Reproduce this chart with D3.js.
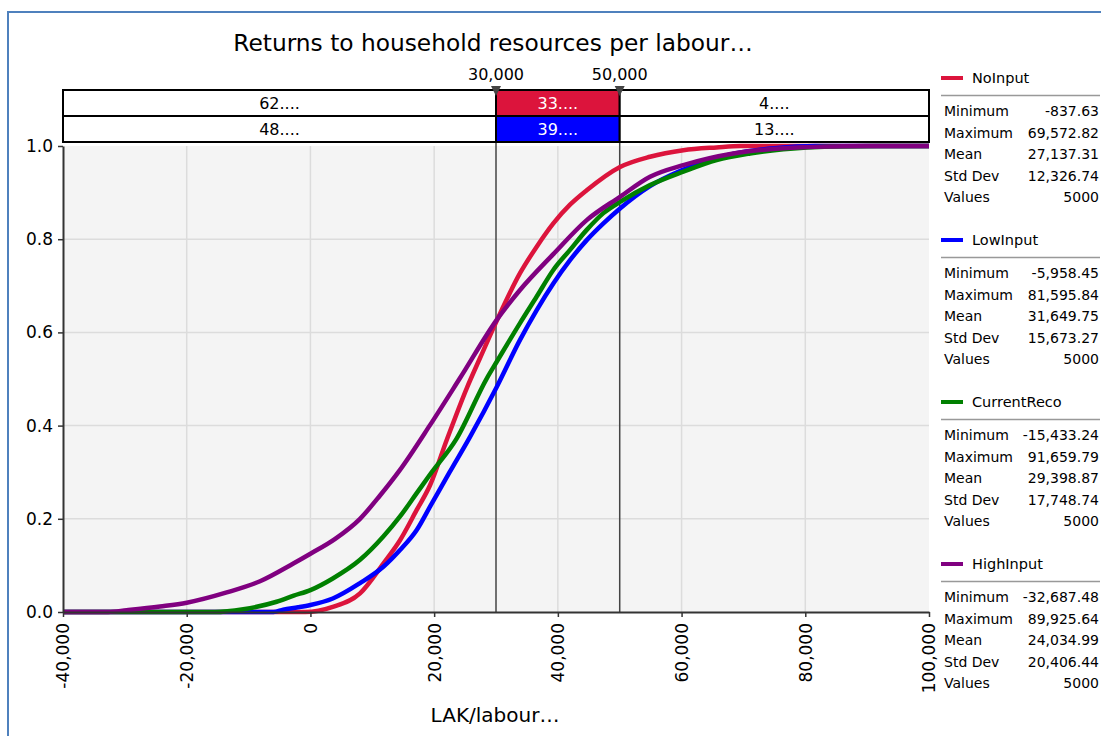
<!DOCTYPE html>
<html>
<head>
<meta charset="utf-8">
<script src="https://cdn.jsdelivr.net/npm/d3@7"></script>
<style>
  html, body { margin: 0; padding: 0; background: #fff; }
  svg { display: block; font-family: "DejaVu Sans", Verdana, sans-serif; }
</style>
</head>
<body>
<svg id="chart" width="1101" height="736"></svg>
<script>
// Cumulative ascending curves: [value (LAK/labour), cumulative probability]
const noInput = [
  [-40000, 0], [-837, 0], [3617, 0.011], [8017, 0.04], [11783, 0.104], [14483, 0.154],
  [17183, 0.219], [19333, 0.272], [22033, 0.369], [25267, 0.48], [27417, 0.545],
  [30117, 0.625], [33883, 0.727], [36583, 0.784], [39267, 0.834], [41967, 0.874],
  [44667, 0.905], [50050, 0.955], [54900, 0.977], [60283, 0.991], [65667, 0.997],
  [69573, 1], [100000, 1]
];
const lowInput = [
  [-40000, 0], [-5958, 0], [-4400, 0.005], [-2000, 0.01], [0, 0.015], [3617, 0.029],
  [8017, 0.062], [11783, 0.097], [14483, 0.133], [17183, 0.176], [19333, 0.226],
  [22500, 0.30], [25800, 0.376], [30117, 0.483], [33883, 0.584], [36583, 0.648],
  [39267, 0.705], [41967, 0.755], [44667, 0.798], [47367, 0.834], [50050, 0.866],
  [54900, 0.914], [60000, 0.948], [65000, 0.972], [70000, 0.987], [75000, 0.995],
  [81596, 1], [100000, 1]
];
const currentReco = [
  [-40000, 0], [-15433, 0], [-10850, 0.006], [-5467, 0.022], [-2700, 0.035], [0, 0.047],
  [3617, 0.072], [8017, 0.112], [11783, 0.162], [14483, 0.205], [17183, 0.255],
  [19333, 0.295], [23633, 0.372], [28500, 0.501], [30117, 0.537], [33883, 0.62],
  [36583, 0.677], [39267, 0.734], [41967, 0.777], [44667, 0.82], [47367, 0.856],
  [50050, 0.88], [54900, 0.916], [60283, 0.945], [65667, 0.97], [71067, 0.984],
  [76450, 0.993], [84000, 0.999], [91660, 1], [100000, 1]
];
const highInput = [
  [-40000, 0], [-32687, 0], [-29700, 0.004], [-24317, 0.012], [-20000, 0.02],
  [-13533, 0.042], [-8150, 0.066], [-2767, 0.104], [0, 0.125], [4000, 0.157],
  [8017, 0.2], [11250, 0.25], [14480, 0.305], [19330, 0.401], [24183, 0.502],
  [30117, 0.627], [33883, 0.691], [39267, 0.768], [44667, 0.841], [50050, 0.891],
  [54900, 0.934], [60283, 0.959], [68367, 0.984], [76450, 0.995], [84500, 0.999],
  [89926, 1], [100000, 1]
];

const seriesNames  = ["NoInput", "LowInput", "CurrentReco", "HighInput"];
const seriesColors = ["#dc143c", "#0000ff", "#008000", "#800080"];
const seriesData   = [noInput, lowInput, currentReco, highInput];

const statLabels = ["Minimum", "Maximum", "Mean", "Std Dev", "Values"];
const statsNoInput     = ["-837.63", "69,572.82", "27,137.31", "12,326.74", "5000"];
const statsLowInput    = ["-5,958.45", "81,595.84", "31,649.75", "15,673.27", "5000"];
const statsCurrentReco = ["-15,433.24", "91,659.79", "29,398.87", "17,748.74", "5000"];
const statsHighInput   = ["-32,687.48", "89,925.64", "24,034.99", "20,406.44", "5000"];
const seriesStats = [statsNoInput, statsLowInput, statsCurrentReco, statsHighInput];

// Delimiter sliders and the probability strip above the plot
const delimiters = [30000, 50000];
const delimiterLabels = ["30,000", "50,000"];
const stripRowNoInput  = ["62....", "33....", "4...."];
const stripRowLowInput = ["48....", "39....", "13...."];

const xTicks = [-40000, -20000, 0, 20000, 40000, 60000, 80000, 100000];
const yTicks = [0, 0.2, 0.4, 0.6, 0.8, 1.0];

const titleText = "Returns to household resources per labour\u2026";
const xAxisTitle = "LAK/labour\u2026";

// plain hyphen for negative numbers
const locale = d3.formatLocale({ decimal: ".", thousands: ",", grouping: [3], currency: ["", ""], minus: "-" });

const svg = d3.select("#chart");

// outer frame
svg.append("path")
  .attr("d", "M8,736 L8,12 L1101,12")
  .attr("fill", "none").attr("stroke", "#4f81bd").attr("stroke-width", 2);

const x = d3.scaleLinear().domain([-40000, 100000]).range([63, 929]);
const y = d3.scaleLinear().domain([0, 1]).range([612, 146]);

// plot background
svg.append("rect")
  .attr("x", x(-40000)).attr("y", y(1))
  .attr("width", x(100000) - x(-40000)).attr("height", y(0) - y(1))
  .attr("fill", "#f4f4f4");

// grid
const grid = svg.append("g");
grid.selectAll("line.gx").data(xTicks.slice(1, -1)).enter().append("line")
  .attr("x1", d => x(d)).attr("x2", d => x(d))
  .attr("y1", y(0)).attr("y2", y(1))
  .attr("stroke", "#dcdcdc").attr("stroke-width", 1.5);
grid.selectAll("line.gy").data(yTicks.slice(1, -1)).enter().append("line")
  .attr("x1", x(-40000)).attr("x2", x(100000))
  .attr("y1", d => y(d)).attr("y2", d => y(d))
  .attr("stroke", "#dcdcdc").attr("stroke-width", 1.5);

// delimiter lines through the plot
svg.selectAll("line.delim").data(delimiters).enter().append("line")
  .attr("x1", d => x(d)).attr("x2", d => x(d))
  .attr("y1", 90).attr("y2", y(0))
  .attr("stroke", "#444").attr("stroke-width", 1.5);

// curves
const line = d3.line()
  .x(d => x(d[0])).y(d => y(d[1]))
  .curve(d3.curveMonotoneX);
seriesData.forEach((data, i) => {
  svg.append("path")
    .datum(data)
    .attr("d", line)
    .attr("fill", "none")
    .attr("stroke", seriesColors[i])
    .attr("stroke-width", 4.5)
    .attr("stroke-linejoin", "round");
});

// axes
const xAxis = d3.axisBottom(x).tickValues(xTicks).tickSize(5).tickFormat(locale.format(",")).tickSizeOuter(0);
const gx = svg.append("g").attr("transform", `translate(0,${y(0)})`).call(xAxis);
gx.select(".domain").attr("stroke", "#333").attr("stroke-width", 2);
gx.selectAll(".tick line").attr("stroke", "#333").attr("stroke-width", 1.5);
gx.selectAll(".tick text")
  .attr("font-size", 17).attr("fill", "#000")
  .attr("font-family", "DejaVu Sans, sans-serif")
  .attr("text-anchor", "end")
  .attr("transform", "rotate(-90)")
  .attr("x", -11).attr("y", 0).attr("dy", "0.35em");

const yAxis = d3.axisLeft(y).tickValues(yTicks).tickSize(5).tickFormat(locale.format(".1f")).tickSizeOuter(0);
const gy = svg.append("g").attr("transform", `translate(${x(-40000)},0)`).call(yAxis);
gy.select(".domain").attr("stroke", "#333").attr("stroke-width", 2);
gy.selectAll(".tick line").attr("stroke", "#333").attr("stroke-width", 1.5);
gy.selectAll(".tick text")
  .attr("font-size", 17).attr("fill", "#000")
  .attr("font-family", "DejaVu Sans, sans-serif")
  .attr("x", -10);

// probability strip
const bounds = [-40000, delimiters[0], delimiters[1], 100000];
const stripRows = [stripRowNoInput, stripRowLowInput];
stripRows.forEach((row, r) => {
  const top = 90 + r * 26;
  row.forEach((txt, c) => {
    const mid = c === 1;
    svg.append("rect")
      .attr("x", x(bounds[c])).attr("y", top)
      .attr("width", x(bounds[c + 1]) - x(bounds[c])).attr("height", 26)
      .attr("fill", mid ? seriesColors[r] : "#fff")
      .attr("stroke", "#000").attr("stroke-width", 2);
    svg.append("text")
      .attr("x", (x(bounds[c]) + x(bounds[c + 1])) / 2).attr("y", top + 19)
      .attr("text-anchor", "middle").attr("font-size", 16)
      .attr("fill", mid ? "#fff" : "#000")
      .text(txt);
  });
});

// delimiter handles and labels
delimiters.forEach((d, i) => {
  const cx = x(d);
  svg.append("path")
    .attr("d", `M${cx - 5},86 L${cx + 5},86 L${cx},96 Z`)
    .attr("fill", "#444");
  svg.append("text")
    .attr("x", cx).attr("y", 80)
    .attr("text-anchor", "middle").attr("font-size", 16).attr("fill", "#000")
    .text(delimiterLabels[i]);
});

// title and axis title
svg.append("text")
  .attr("x", 493).attr("y", 51).attr("text-anchor", "middle")
  .attr("font-size", 23.3).attr("fill", "#000").text(titleText);
svg.append("text")
  .attr("x", 495).attr("y", 722).attr("text-anchor", "middle")
  .attr("font-size", 20).attr("fill", "#000").text(xAxisTitle);

// legend with summary statistics
seriesNames.forEach((name, i) => {
  const by = 78 + i * 162;
  const g = svg.append("g");
  g.append("line")
    .attr("x1", 941).attr("x2", 963).attr("y1", by).attr("y2", by)
    .attr("stroke", seriesColors[i]).attr("stroke-width", 4);
  g.append("text")
    .attr("x", 972).attr("y", by + 5).attr("font-size", 14.5).attr("fill", "#000")
    .text(name);
  g.append("line")
    .attr("x1", 941).attr("x2", 1100).attr("y1", by + 17.5).attr("y2", by + 17.5)
    .attr("stroke", "#999").attr("stroke-width", 1.5);
  statLabels.forEach((lab, k) => {
    const ty = by + 38 + k * 21.5;
    g.append("text").attr("x", 944).attr("y", ty).attr("font-size", 14).attr("fill", "#000").text(lab);
    g.append("text").attr("x", 1099).attr("y", ty).attr("font-size", 14)
      .attr("text-anchor", "end").attr("fill", "#000").text(seriesStats[i][k]);
  });
});
</script>
</body>
</html>
